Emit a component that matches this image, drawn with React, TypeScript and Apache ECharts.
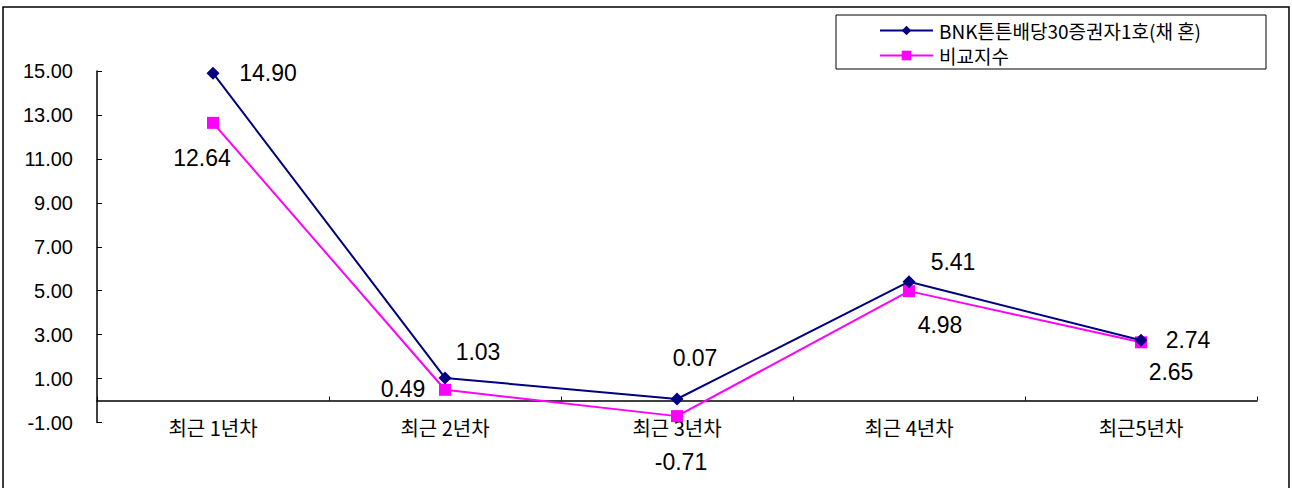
import React, { useEffect, useRef } from "react";
import * as echarts from "echarts";

const categories = ["최근 1년차", "최근 2년차", "최근 3년차", "최근 4년차", "최근5년차"];
const fundName = "BNK튼튼배당30증권자1호(채 혼)";
const benchName = "비교지수";
const fundValues = [14.9, 1.03, 0.07, 5.41, 2.74];
const benchValues = [12.64, 0.49, -0.71, 4.98, 2.65];
const yTicks = [-1, 15, 2]; // min, max, interval

// label offsets (pixels) relative to each point
const fundLabelOffsets = [[55, 0], [33, -26], [18, -41], [44, -20], [47, 0]];
const benchLabelOffsets = [[-11, 35], [-42, -1], [4, 46], [31, 34], [30, 30]];

const numFont = "'Liberation Sans', Arial, sans-serif";
const krFont = "'Noto Sans CJK KR', 'Liberation Sans', sans-serif";

function buildData(values: number[], offsets: number[][]) {
  return values.map((v, i) => ({
    value: v,
    label: { offset: offsets[i] },
  }));
}

export default function App() {
  const ref = useRef<HTMLDivElement>(null);
  useEffect(() => {
    if (!ref.current) return;
    const chart = echarts.init(ref.current, null, { renderer: "svg" });
    const labelCommon = {
      show: true,
      position: "inside",
      align: "center",
      verticalAlign: "middle",
      color: "#000",
      fontSize: 23,
      fontFamily: numFont,
      formatter: (p: any) => Number(p.value).toFixed(2),
    };
    chart.setOption({
      animation: false,
      backgroundColor: "#fff",
      grid: { left: 97, top: 71, width: 1160, height: 351.5, containLabel: false },
      legend: {
        orient: "vertical",
        left: 874,
        top: 16,
        itemWidth: 53,
        itemHeight: 12,
        itemGap: 6,
        textStyle: { fontSize: 19, fontFamily: krFont, color: "#000", padding: [0, 0, 0, 1] },
        data: [fundName, benchName],
      },
      xAxis: {
        type: "category",
        data: categories,
        boundaryGap: true,
        axisLine: { onZero: true, lineStyle: { color: "#000", width: 1.5 } },
        axisTick: { show: true, inside: true, length: 4, lineStyle: { color: "#000" } },
        axisLabel: { color: "#000", fontSize: 20, fontFamily: krFont, margin: -5 },
        splitLine: { show: false },
      },
      yAxis: {
        type: "value",
        min: yTicks[0],
        max: yTicks[1],
        interval: yTicks[2],
        axisLine: { show: true, onZero: false, lineStyle: { color: "#000", width: 1.5 } },
        axisTick: { show: true, inside: true, length: 5, lineStyle: { color: "#000" } },
        axisLabel: {
          color: "#000",
          fontSize: 20,
          fontFamily: numFont,
          margin: 24,
          formatter: (v: number) => v.toFixed(2),
        },
        splitLine: { show: false },
      },
      series: [
        {
          name: fundName,
          type: "line",
          data: buildData(fundValues, fundLabelOffsets),
          symbol: "diamond",
          symbolSize: 13,
          showAllSymbol: true,
          lineStyle: { color: "#000080", width: 2 },
          itemStyle: { color: "#000080" },
          label: labelCommon,
          z: 3,
        },
        {
          name: benchName,
          type: "line",
          data: buildData(benchValues, benchLabelOffsets),
          symbol: "rect",
          symbolSize: 12,
          showAllSymbol: true,
          lineStyle: { color: "#FF00FF", width: 2 },
          itemStyle: { color: "#FF00FF" },
          label: labelCommon,
          z: 2,
        },
      ],
      graphic: [
        {
          type: "rect",
          shape: { x: 3, y: 7, width: 1286, height: 500 },
          style: { fill: "none", stroke: "#000", lineWidth: 1.5 },
          silent: true,
          z: -1,
        },
        {
          type: "rect",
          shape: { x: 836, y: 15, width: 430, height: 54 },
          style: { fill: "none", stroke: "#000", lineWidth: 1 },
          silent: true,
        },
      ],
    });
    return () => chart.dispose();
  }, []);
  return (
    <div
      ref={ref}
      style={{ position: "fixed", left: 0, top: 0, width: 1292, height: 488, background: "#fff" }}
    />
  );
}
